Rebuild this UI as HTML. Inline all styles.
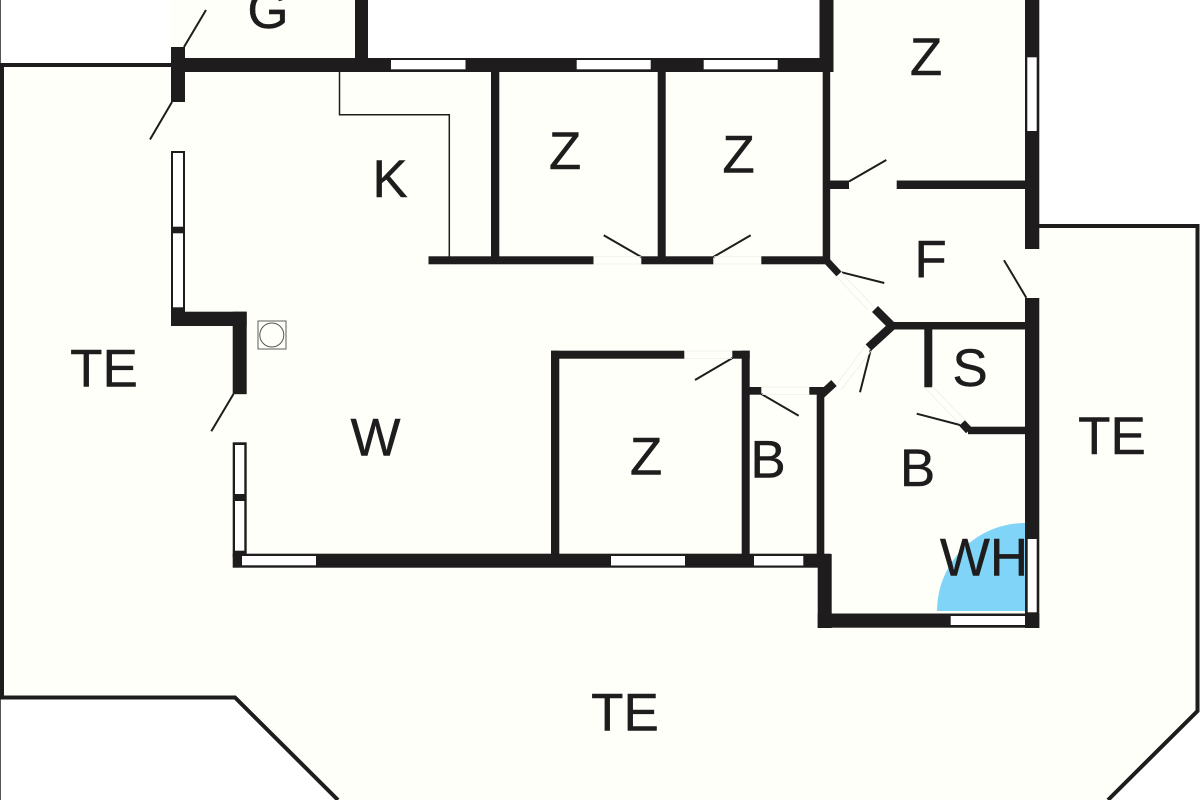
<!DOCTYPE html>
<html>
<head>
<meta charset="utf-8">
<style>
html,body{margin:0;padding:0;background:#fff;}
svg{display:block;}
text{font-family:"Liberation Sans",sans-serif;font-size:53px;fill:#1e1c1c;stroke:#1e1c1c;stroke-width:0.4;text-anchor:middle;}
</style>
</head>
<body>
<svg width="1200" height="800" viewBox="0 0 1200 800" xmlns="http://www.w3.org/2000/svg">
<rect width="1200" height="800" fill="#fff"/>
<rect x="0" y="0" width="1" height="800" fill="#555"/>
<polygon fill="#fffffa" points="0,65 171,65 171,0 362,0 362,65 826,65 826,0 1032,0 1032,226 1198,226 1198,711 1108,800 338,800 235,697 0,697"/>
<polyline fill="none" stroke="#1e1c1c" stroke-width="4" points="171,65 2,65 2,697.5 235,697.5 338,800"/>
<polyline fill="none" stroke="#1e1c1c" stroke-width="4" points="1039,226 1197.5,226 1197.5,711 1108,800"/>

<path d="M1025,611 V523 A88,88 0 0 0 937,611 Z" fill="#7fd4f8"/>

<g fill="#1e1c1c">
<!-- top walls -->
<rect x="171" y="47" width="14" height="55"/>
<rect x="184" y="58" width="649" height="14"/>
<rect x="355" y="0" width="13" height="60"/>
<rect x="819.5" y="0" width="14" height="72"/>
<rect x="822.7" y="72" width="7.5" height="188"/>
<rect x="1025" y="0" width="14.3" height="249"/>
<rect x="1025" y="298" width="14.3" height="330"/>
<!-- inner verticals -->
<rect x="491" y="72" width="8.3" height="186"/>
<rect x="657.7" y="72" width="8" height="186"/>
<!-- corridor -->
<rect x="428.5" y="256.3" width="165" height="8"/>
<rect x="641.3" y="256.3" width="72" height="8"/>
<rect x="761.3" y="256.3" width="66" height="8"/>
<!-- left -->
<rect x="171" y="307" width="14" height="19"/>
<rect x="171" y="311.7" width="75.7" height="14.3"/>
<rect x="232.7" y="311.7" width="14" height="82.5"/>
<rect x="171" y="151" width="14" height="160"/>
<rect x="232.7" y="442.3" width="14" height="115"/>
<rect x="232.7" y="553.7" width="598" height="14"/>
<!-- Z room -->
<rect x="551" y="350.7" width="133.3" height="8"/>
<rect x="551" y="350.7" width="8.3" height="204"/>
<rect x="732.3" y="350.7" width="17.4" height="8"/>
<rect x="741.7" y="350.7" width="8" height="204"/>
<!-- B room -->
<rect x="749" y="387" width="12.3" height="7.7"/>
<rect x="809.3" y="387" width="15" height="7.7"/>
<rect x="816.7" y="387" width="7.6" height="168"/>
<!-- bath -->
<rect x="817.7" y="554" width="14" height="74"/>
<rect x="817.7" y="613.5" width="221.6" height="14.2"/>
<!-- Z upper right -->
<rect x="830" y="180.5" width="19" height="8.5"/>
<rect x="896.7" y="180.5" width="129" height="8.5"/>
<!-- F / S -->
<rect x="888" y="322" width="138" height="7.5"/>
<rect x="924.3" y="329" width="8" height="58.3"/>
<rect x="968" y="426.7" width="58" height="7.5"/>
</g>

<g stroke="#1e1c1c" fill="none" stroke-linecap="butt">
<line x1="825" y1="259" x2="839" y2="274" stroke-width="7"/>
<line x1="892" y1="326" x2="875" y2="309" stroke-width="8.5"/>
<line x1="892" y1="326" x2="868.5" y2="347.5" stroke-width="8.5"/>
<line x1="821" y1="395" x2="834" y2="383" stroke-width="8"/>
<line x1="962" y1="423" x2="969" y2="430.5" stroke-width="8"/>
</g>

<g fill="#fff">
<!-- top wall windows -->
<rect x="391" y="60" width="74.5" height="9.3"/>
<rect x="576.7" y="60" width="74" height="9.3"/>
<rect x="703.7" y="60" width="74" height="9.3"/>
<rect x="1027.3" y="57.3" width="9.4" height="73.7"/>
<!-- left windows -->
<rect x="173" y="153" width="10" height="73.7"/>
<rect x="173" y="233.3" width="10" height="74"/>
<rect x="235" y="445" width="9.3" height="49"/>
<rect x="235" y="501" width="9.3" height="49.7"/>
<!-- bottom windows -->
<rect x="242" y="556" width="74" height="9.3"/>
<rect x="611" y="556" width="74" height="9.5"/>
<rect x="754" y="556" width="49.3" height="9.5"/>
<rect x="950.7" y="616" width="74.3" height="9"/>
<rect x="1027.7" y="539" width="9" height="73.3"/>
</g>

<!-- door leaves -->
<g stroke="#1e1c1c" stroke-width="2" fill="none">
<line x1="184" y1="47" x2="206" y2="10"/>
<line x1="172" y1="102" x2="150" y2="139.5"/>
<line x1="233.5" y1="394" x2="211.3" y2="431.3"/>
<line x1="641.3" y1="257" x2="603.7" y2="235.3"/>
<line x1="713.3" y1="257" x2="750.7" y2="235.3"/>
<line x1="732.5" y1="358" x2="695" y2="380"/>
<line x1="761.3" y1="394" x2="798.7" y2="415.7"/>
<line x1="841.7" y1="272.3" x2="884.3" y2="283"/>
<line x1="849" y1="181.5" x2="886.3" y2="160"/>
<line x1="1026.3" y1="297.7" x2="1004" y2="260.3"/>
<line x1="870.7" y1="350" x2="860" y2="392.3"/>
<line x1="960" y1="425" x2="916.7" y2="413.7"/>
</g>

<!-- faint door thresholds -->
<g stroke="#efefe9" stroke-width="0.8" fill="none">
<line x1="594" y1="256.5" x2="641" y2="256.5"/>
<line x1="594" y1="264" x2="641" y2="264"/>
<line x1="714" y1="256.5" x2="761" y2="256.5"/>
<line x1="714" y1="264" x2="761" y2="264"/>
<line x1="685" y1="351" x2="732" y2="351"/>
<line x1="685" y1="358.5" x2="732" y2="358.5"/>
<line x1="762" y1="387" x2="809" y2="387"/>
<line x1="762" y1="394.5" x2="809" y2="394.5"/>
<line x1="841" y1="272" x2="873" y2="306"/>
<line x1="836" y1="276" x2="868" y2="310"/>
<line x1="837" y1="384" x2="866" y2="345"/>
<line x1="841" y1="390" x2="871" y2="351"/>
<line x1="925" y1="388" x2="960" y2="424"/>
<line x1="932" y1="386" x2="965" y2="420"/>
</g>

<!-- counter -->
<polyline fill="none" stroke="#1e1c1c" stroke-width="1.5" points="339.5,72 339.5,114.7 449.3,114.7 449.3,257"/>

<!-- stove -->
<rect x="258" y="321" width="28" height="28" fill="none" stroke="#777" stroke-width="1.2"/>
<circle cx="271.8" cy="335" r="12" fill="none" stroke="#555" stroke-width="1"/>

<!-- labels -->
<text x="268" y="28">G</text>
<text x="926" y="75">Z</text>
<text x="565" y="169">Z</text>
<text x="738.5" y="172.5">Z</text>
<text x="390" y="197">K</text>
<text x="930.5" y="277.5">F</text>
<text x="970" y="386">S</text>
<text x="104" y="386.5">TE</text>
<text x="1112" y="454">TE</text>
<text x="625" y="730.5">TE</text>
<text x="375.5" y="455.5">W</text>
<text x="646" y="474.5">Z</text>
<text x="768" y="477.5">B</text>
<text x="917.5" y="486">B</text>
<text x="984" y="575.5">WH</text>
</svg>
</body>
</html>
